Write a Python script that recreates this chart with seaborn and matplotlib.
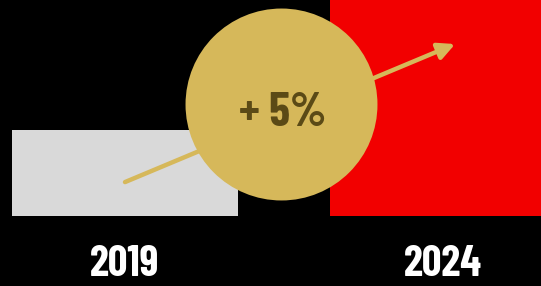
import matplotlib
matplotlib.use("Agg")
import matplotlib.pyplot as plt
import seaborn as sns
import pandas as pd

### data
years = ["2019", "2024"]
values = [40, 100]          # bar heights, 2024 runs off the top
bar_colors = ["#d9d9d9", "#f20000"]
growth_label = "+ 5%"

gold = "#d6b85a"
dark_gold = "#5b4a16"

df = pd.DataFrame({"year": years, "value": values})

# condensed bold face, fall back to DejaVu if missing
plt.rcParams["font.family"] = ["Barlow Condensed", "Roboto Condensed", "DejaVu Sans"]

fig = plt.figure(figsize=(5.41, 2.86), dpi=100)
fig.patch.set_facecolor("black")
ax = fig.add_axes([0, 70 / 286, 1, 216 / 286])
ax.set_facecolor("black")

sns.barplot(data=df, x="year", y="value", hue="year", palette=bar_colors,
            width=0.711, legend=False, saturation=1, ax=ax, linewidth=0)

ax.set_xlim(-0.393, 1.308)
ax.set_ylim(0, 100)

# arrow from the 2019 bar towards the 2024 bar
ax.annotate("", xy=(1.038, 79.6), xytext=(0, 15.7),
            arrowprops=dict(arrowstyle="-|>,head_length=1.0,head_width=0.5",
                            color=gold, lw=3.2, shrinkA=0, shrinkB=0),
            zorder=3)

# gold bubble with the growth figure
ax.scatter([0.489], [51.9], s=19100, color=gold, zorder=4, linewidths=0, clip_on=False)
ax.text(0.497, 41.5, growth_label, ha="center", va="baseline", color=dark_gold,
        fontsize=34, fontweight="bold", zorder=5)

for s in ax.spines.values():
    s.set_visible(False)
ax.set_yticks([])
ax.set_xlabel("")
ax.set_ylabel("")
ax.tick_params(axis="x", length=0, pad=21, labelcolor="white", labelsize=31)
for lbl in ax.get_xticklabels():
    lbl.set_fontweight("bold")

fig.savefig("out.png", dpi=100, facecolor="black")
